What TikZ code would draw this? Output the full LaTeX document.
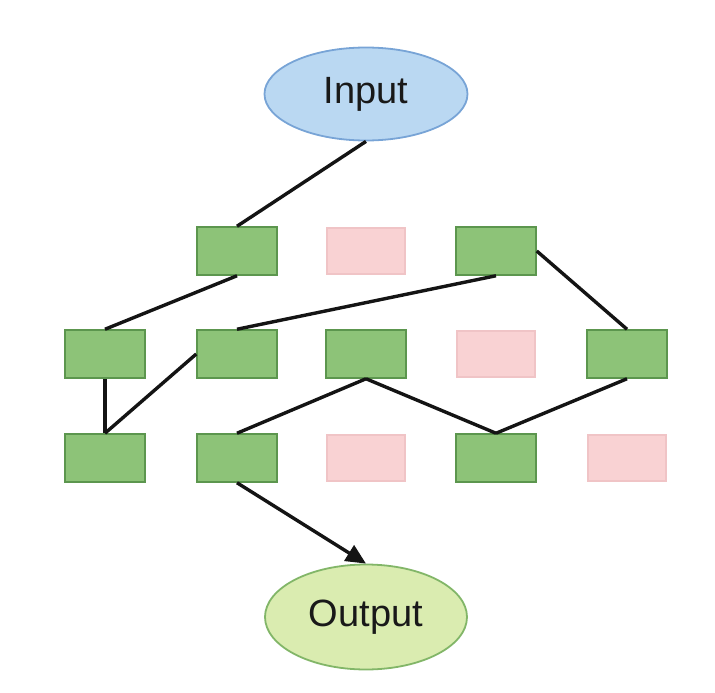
\documentclass[tikz,border=0pt]{standalone}
\usepackage{fontspec}
\setmainfont{Liberation Sans}
\usetikzlibrary{shapes.geometric,arrows.meta}
\definecolor{cellgreen}{RGB}{141,195,120}
\definecolor{cellgreenline}{RGB}{92,150,78}
\definecolor{cellpink}{RGB}{249,210,211}
\definecolor{cellpinkline}{RGB}{240,196,198}
\definecolor{inblue}{RGB}{186,216,242}
\definecolor{inblueline}{RGB}{120,164,214}
\definecolor{outgreen}{RGB}{218,236,176}
\definecolor{outgreenline}{RGB}{130,182,104}
\tikzset{
  active/.style={draw=cellgreenline, fill=cellgreen, line width=1.5pt,
    minimum width=80pt, minimum height=48pt, inner sep=0pt},
  dropped/.style={draw=cellpinkline, fill=cellpink, line width=1.5pt,
    minimum width=78pt, minimum height=46pt, inner sep=0pt},
  io/.style={ellipse, line width=1.8pt, inner sep=0pt,
    font=\fontsize{38pt}{40pt}\selectfont, text=black!90},
  link/.style={line width=3.4pt, black!92}
}
\begin{document}
\begin{tikzpicture}[x=1pt, y=-1pt]
\useasboundingbox (0,0) rectangle (715,693);
% terminals
\node[io, draw=inblueline, fill=inblue, minimum width=203pt, minimum height=93pt] (in) at (366,94) {Input};
\node[io, draw=outgreenline, fill=outgreen, minimum width=202pt, minimum height=105pt] (out) at (366,617) {Output};
% grid of units: rows r1..r3, columns c1..c5
\node[active]  (r1c2) at (237,251) {};
\node[dropped] (r1c3) at (366,251) {};
\node[active]  (r1c4) at (496,251) {};
\node[active]  (r2c1) at (105,354) {};
\node[active]  (r2c2) at (237,354) {};
\node[active]  (r2c3) at (366,354) {};
\node[dropped] (r2c4) at (496,354) {};
\node[active]  (r2c5) at (627,354) {};
\node[active]  (r3c1) at (105,458) {};
\node[active]  (r3c2) at (237,458) {};
\node[dropped] (r3c3) at (366,458) {};
\node[active]  (r3c4) at (496,458) {};
\node[dropped] (r3c5) at (627,458) {};
% connections
\draw[link] (in.south) -- (r1c2.north);
\draw[link] (r1c2.south) -- (r2c1.north);
\draw[link] (r1c4.south) -- (r2c2.north);
\draw[link] (r1c4.east) -- (r2c5.north);
\draw[link] (r2c1.south) -- (r3c1.north);
\draw[link] (r3c1.north) -- (r2c2.west);
\draw[link] (r2c3.south) -- (r3c2.north);
\draw[link] (r2c3.south) -- (r3c4.north);
\draw[link] (r2c5.south) -- (r3c4.north);
\draw[link, -{Triangle[length=20pt, width=18pt]}] (r3c2.south) -- (out.north);
\end{tikzpicture}
\end{document}
